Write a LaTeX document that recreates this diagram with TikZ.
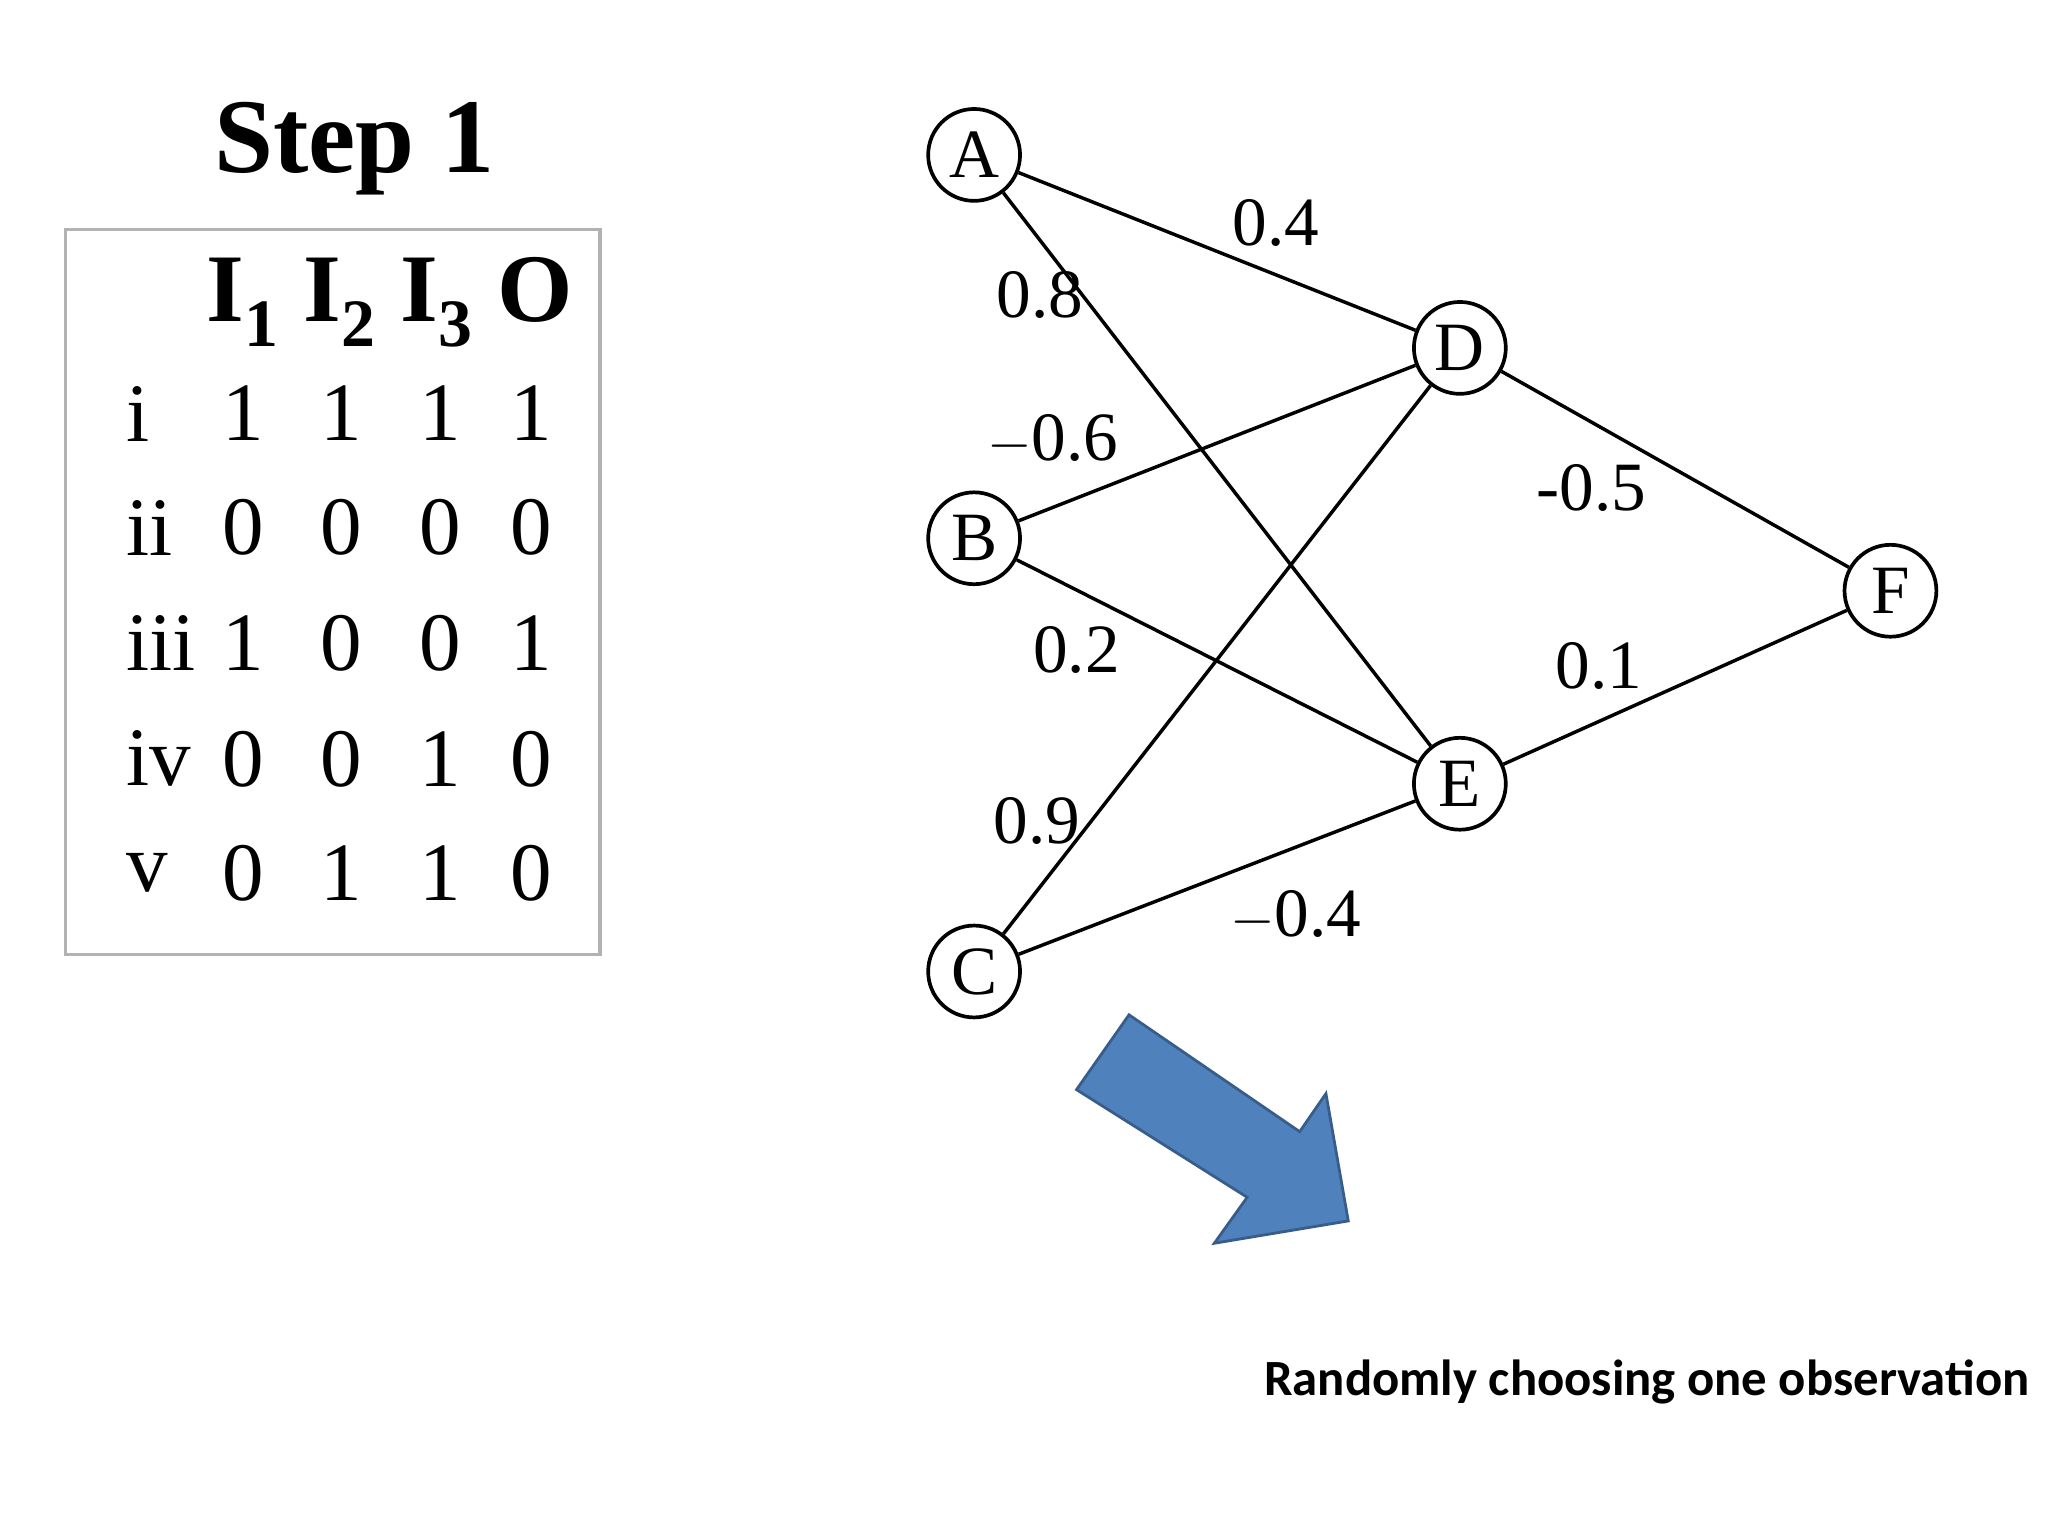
\documentclass[tikz,border=0pt]{standalone}
\usepackage{fontspec}
\setmainfont{Liberation Serif}
\newfontfamily\calib{Carlito}
\begin{document}
\begin{tikzpicture}[x=0.02cm,y=-0.02cm,
  nd/.style={circle,draw,line width=1.6pt,minimum size=1.4cm,inner sep=0pt,font=\fontsize{30}{30}\selectfont},
  ed/.style={line width=1.5pt},
  lb/.style={font=\fontsize{30}{30}\selectfont},
  tb/.style={font=\fontsize{36}{36}\selectfont}]
\useasboundingbox (0,0) rectangle (1560,1170);
\node (st) at (270,113) {\fontsize{46}{46}\selectfont\bfseries Step 1};
\draw[gray!60,line width=1.5pt] (50,175) rectangle (457,727);
\node[font=\fontsize{42}{42}\selectfont\bfseries] (hd) at (297,230) {I\textsubscript{1} I\textsubscript{2} I\textsubscript{3} O};
\foreach \r/\y/\a/\b/\c/\d in {i/315/1/1/1/1, ii/402/0/0/0/0, iii/490/1/0/0/1, iv/578/0/0/1/0, v/665/0/1/1/0}{
  \node[tb,anchor=west] (r\r) at (90,\y) {\r};
  \node[tb] (a\r) at (185,\y) {\a};
  \node[tb] (b\r) at (260,\y) {\b};
  \node[tb] (c\r) at (335,\y) {\c};
  \node[tb] (d\r) at (405,\y) {\d};
}
\node[nd] (A) at (742,118) {A};
\node[nd] (B) at (742,410) {B};
\node[nd] (C) at (742,740) {C};
\node[nd] (D) at (1112,265) {D};
\node[nd] (E) at (1112,597) {E};
\node[nd] (F) at (1440,450) {F};
\draw[ed] (A)--(D); \draw[ed] (A)--(E);
\draw[ed] (B)--(D); \draw[ed] (B)--(E);
\draw[ed] (C)--(D); \draw[ed] (C)--(E);
\draw[ed] (D)--(F); \draw[ed] (E)--(F);
\node[lb] (l1) at (972,170) {0.4};
\node[lb] (l2) at (792,225) {0.8};
\node[lb] (l3) at (802,335) {$-$0.6};
\node[lb] (l4) at (820,495) {0.2};
\node[lb] (l5) at (790,625) {0.9};
\node[lb] (l6) at (987,698) {$-$0.4};
\node[lb] (l7) at (1212,372) {-0.5};
\node[lb] (l8) at (1218,507) {0.1};
\draw[fill={rgb,255:red,79;green,129;blue,189},draw={rgb,255:red,56;green,93;blue,138},line width=1.2pt]
  (860,773) -- (990,862) -- (1010,833) -- (1027,930) -- (925,947) -- (950,912) -- (820,830) -- cycle;
\node[anchor=east,font=\calib\fontsize{22}{22}\selectfont\bfseries] (t) at (1552,1053) {Randomly choosing one observation};
\end{tikzpicture}
\end{document}
